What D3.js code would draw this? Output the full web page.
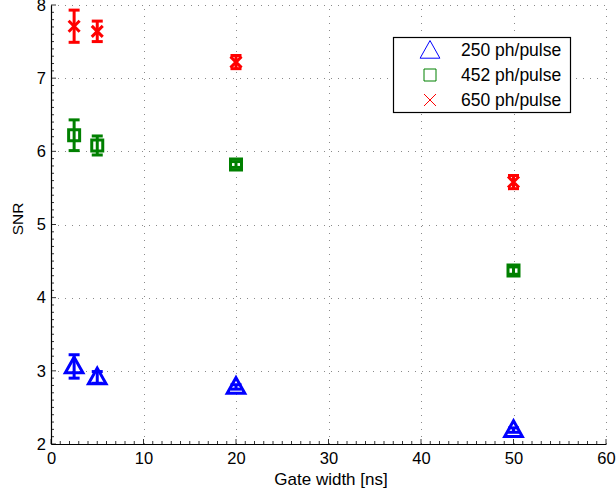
<!DOCTYPE html>
<html>
<head>
<meta charset="utf-8">
<script src="https://cdn.jsdelivr.net/npm/d3@7"></script>
<style>
  body { margin: 0; background: #fff; }
  svg text { font-family: "Liberation Sans", Arial, Helvetica, sans-serif; }
</style>
</head>
<body>
<svg id="chart" width="616" height="495"></svg>
<script>
// Gate widths (ns) shared by all series
const gateWidths = [2.5, 5, 20, 50];

// SNR means and error half-widths per photon level
const snr250 = [3.06, 2.91, 2.78, 2.19];
const err250 = [0.16, 0.08, 0.03, 0.03];
const snr452 = [6.22, 6.08, 5.82, 4.37];
const err452 = [0.21, 0.13, 0.04, 0.05];
const snr650 = [7.71, 7.64, 7.22, 5.58];
const err650 = [0.22, 0.14, 0.09, 0.09];

const seriesNames = ["250 ph/pulse", "452 ph/pulse", "650 ph/pulse"];
const xTicks = [0, 10, 20, 30, 40, 50, 60];
const yTicks = [2, 3, 4, 5, 6, 7, 8];

const series = [
  { name: seriesNames[0], y: snr250, e: err250, color: "#0000ff", shape: "triangle" },
  { name: seriesNames[1], y: snr452, e: err452, color: "#008000", shape: "square" },
  { name: seriesNames[2], y: snr650, e: err650, color: "#ff0000", shape: "cross" }
];

const svg = d3.select("#chart");
const x = d3.scaleLinear().domain([0, 60]).range([51, 606]);
const y = d3.scaleLinear().domain([2, 8]).range([444, 5]);

// dotted grid
const grid = svg.append("g").attr("stroke", "#8a8a8a").attr("stroke-width", 1)
  .attr("stroke-dasharray", "1,6");
grid.selectAll("line.v").data(xTicks.slice(1)).join("line")
  .attr("x1", d => Math.round(x(d)) + 0.5).attr("x2", d => Math.round(x(d)) + 0.5)
  .attr("y1", y(2)).attr("y2", y(8));
grid.selectAll("line.h").data(yTicks.slice(1)).join("line")
  .attr("y1", d => Math.round(y(d)) + 0.5).attr("y2", d => Math.round(y(d)) + 0.5)
  .attr("x1", x(0)).attr("x2", x(60));

// axes with minor ticks
const xMinor = d3.range(0, 61, 1);
const yMinor = d3.range(20, 81, 1).map(v => v / 10);
const axG = svg.append("g").attr("stroke", "#000");
axG.selectAll("line.xm").data(xMinor).join("line")
  .attr("x1", d => x(d)).attr("x2", d => x(d))
  .attr("y1", y(2)).attr("y2", d => y(2) - (d % 10 === 0 ? 5 : 3))
  .attr("stroke-width", 0.8);
axG.selectAll("line.ym").data(yMinor).join("line")
  .attr("y1", d => y(d)).attr("y2", d => y(d))
  .attr("x1", x(0)).attr("x2", d => x(0) + (Math.abs(d - Math.round(d)) < 1e-9 ? 5 : 3))
  .attr("stroke-width", 0.8);

const xAxis = svg.append("g").attr("transform", `translate(0,${y(2)})`)
  .call(d3.axisBottom(x).tickValues(xTicks).tickSize(0).tickPadding(8).tickFormat(d3.format("d")));
const yAxis = svg.append("g").attr("transform", `translate(${x(0)},0)`)
  .call(d3.axisLeft(y).tickValues(yTicks).tickSize(0).tickPadding(5).tickFormat(d3.format("d")));
[xAxis, yAxis].forEach(a => {
  a.select(".domain").attr("stroke", "#000").attr("stroke-width", 1.2);
  a.selectAll("text").attr("font-size", 16.5).attr("fill", "#000");
});

svg.append("text").attr("x", 331).attr("y", 485).attr("text-anchor", "middle")
  .attr("font-size", 17).text("Gate width [ns]");
svg.append("text").attr("transform", "translate(23,219) rotate(-90)")
  .attr("text-anchor", "middle").attr("font-size", 15.5).text("SNR");

// marker paths centred at origin
function markerPath(shape, s) {
  if (shape === "triangle") {
    return `M0,${-s * 0.58}L${s * 0.55},${s * 0.4}L${-s * 0.55},${s * 0.4}Z`;
  }
  if (shape === "square") {
    const h = s / 2;
    return `M${-h},${-h}H${h}V${h}H${-h}Z`;
  }
  const h = s / 2;
  return `M${-h},${-h}L${h},${h}M${h},${-h}L${-h},${h}`;
}

// data points with error bars
series.forEach(sr => {
  const g = svg.append("g").attr("stroke", sr.color).attr("fill", "none");
  gateWidths.forEach((gw, i) => {
    const cx = x(gw), top = y(sr.y[i] + sr.e[i]), bot = y(sr.y[i] - sr.e[i]);
    g.append("line").attr("x1", cx).attr("x2", cx).attr("y1", top).attr("y2", bot).attr("stroke-width", 3);
    g.append("line").attr("x1", cx - 5.5).attr("x2", cx + 5.5).attr("y1", top).attr("y2", top).attr("stroke-width", 3);
    g.append("line").attr("x1", cx - 5.5).attr("x2", cx + 5.5).attr("y1", bot).attr("y2", bot).attr("stroke-width", 3);
    const size = sr.shape === "triangle" ? 16 : (sr.shape === "square" ? 11 : 11);
    g.append("path").attr("d", markerPath(sr.shape, size))
      .attr("transform", `translate(${cx},${y(sr.y[i])})`)
      .attr("stroke-width", 3).attr("stroke-linejoin", "miter");
  });
});

// legend
const lg = svg.append("g");
lg.append("rect").attr("x", 393.5).attr("y", 37.5).attr("width", 177).attr("height", 75)
  .attr("fill", "#fff").attr("stroke", "#000").attr("stroke-width", 1.2);
series.forEach((sr, i) => {
  const ly = 50 + i * 25;
  lg.append("path").attr("d", markerPath(sr.shape, sr.shape === "triangle" ? 18 : 12))
    .attr("transform", `translate(430,${ly + (sr.shape === "triangle" ? 1 : 0)})`)
    .attr("fill", "none").attr("stroke", sr.color).attr("stroke-width", 1);
  lg.append("text").attr("x", 461).attr("y", ly + 6).attr("font-size", 17.5).text(sr.name);
});
</script>
</body>
</html>
